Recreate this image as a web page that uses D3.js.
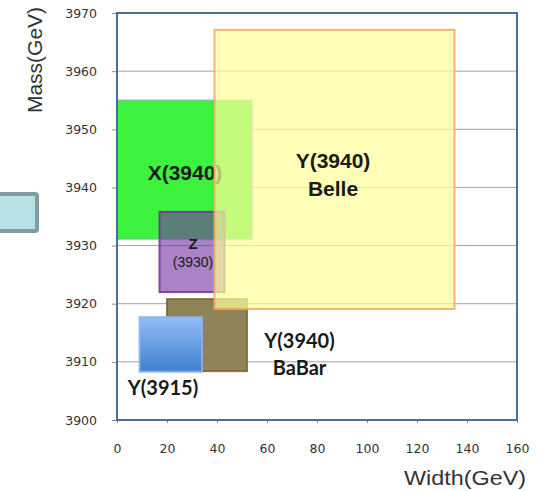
<!DOCTYPE html>
<html>
<head>
<meta charset="utf-8">
<script src="https://cdn.jsdelivr.net/npm/d3@7"></script>
<style>
  body { margin: 0; background: #fff; }
  svg { display: block; }
</style>
</head>
<body>
<div id="canvas"></div>
<script>
// states, drawn from bottom layer to top layer
const names    = ["X(3940)", "Z(3930)", "Y(3940) BaBar", "Y(3915)", "Y(3940) Belle"];
const widthLo  = [0, 17, 20, 9, 39];
const widthHi  = [54, 43, 52, 34, 135];
const massLo   = [3931.1, 3922.0, 3908.4, 3908.3, 3919.1];
const massHi   = [3955.0, 3935.8, 3920.8, 3917.7, 3967.1];

const xTicks = [0, 20, 40, 60, 80, 100, 120, 140, 160];
const yTicks = [3900, 3910, 3920, 3930, 3940, 3950, 3960, 3970];

// label lines placed at (width, mass)
const labelText = ["X(3940)", "Y(3940)", "Belle", "Z", "(3930)", "Y(3940)", "BaBar", "Y(3915)"];
const labelW    = [27.2, 86.4, 86.4, 30.4, 30.4, 73.0, 73.0, 18.4];
const labelM    = [3942.5, 3944.7, 3939.9, 3930.4, 3927.2, 3913.8, 3909.1, 3905.6];

const width = 538, height = 491;
const margin = { top: 13, left: 117, bottom: 71, right: 21 };
const iwidth = width - margin.left - margin.right;
const iheight = height - margin.top - margin.bottom;

const svg = d3.select("#canvas").append("svg")
  .attr("width", width)
  .attr("height", height);

const defs = svg.append("defs");
const grad = defs.append("linearGradient").attr("id", "blueGrad")
  .attr("x1", 0).attr("y1", 0).attr("x2", 0).attr("y2", 1);
grad.append("stop").attr("offset", "0%").attr("stop-color", "#93bdf6");
grad.append("stop").attr("offset", "100%").attr("stop-color", "#3f7fd0");

// stray box at the left edge
svg.append("rect")
  .attr("x", -6).attr("y", 194).attr("width", 43).attr("height", 37).attr("rx", 2)
  .style("fill", "#b8e1e6").style("stroke", "#809e9f").style("stroke-width", 4);

const g = svg.append("g").attr("transform", `translate(${margin.left},${margin.top})`);

const x = d3.scaleLinear().domain([0, 160]).range([0, iwidth]);
const y = d3.scaleLinear().domain([3900, 3970]).range([iheight, 0]);

// grid
g.append("g")
  .selectAll("line").data(yTicks).enter().append("line")
  .attr("x1", 0).attr("x2", iwidth)
  .attr("y1", d => y(d)).attr("y2", d => y(d))
  .style("stroke", "#a3a3a3").style("stroke-width", 1);

const xAxis = g.append("g")
  .attr("transform", `translate(0,${iheight})`)
  .call(d3.axisBottom(x).tickValues(xTicks).tickSize(3).tickPadding(21).tickFormat(d3.format("d")));
const yAxis = g.append("g")
  .call(d3.axisLeft(y).tickValues(yTicks).tickSize(5).tickPadding(15).tickFormat(d3.format("d")));
[xAxis, yAxis].forEach(a => {
  a.select(".domain").remove();
  a.selectAll("line").style("stroke", "#8a8a8a");
  a.selectAll("text").style("font-family", "DejaVu Sans").style("font-size", "12.5px").style("fill", "#333");
});

const fills   = ["#3df23d", "#7030a0", "#86784a", "url(#blueGrad)", "#ffff99"];
const opac    = [1, 0.6, 0.92, 1, 0.7];
const strokes = ["#7f9fbf", "#7030a0", "#7a6632", "#8fb4e8", "#f5a462"];

const idx = d3.range(names.length);
const drawRect = i => g.append("rect")
  .attr("class", "state")
  .attr("x", x(widthLo[i]))
  .attr("y", y(massHi[i]))
  .attr("width", x(widthHi[i]) - x(widthLo[i]))
  .attr("height", y(massLo[i]) - y(massHi[i]))
  .style("fill", fills[i])
  .style("fill-opacity", opac[i])
  .style("stroke", strokes[i])
  .style("stroke-opacity", i === 0 ? 0.5 : 0.85)
  .style("stroke-width", 2);

idx.slice(0, 4).forEach(drawRect);

const labels = g.selectAll(".lab").data(d3.range(labelText.length)).enter().append("text")
  .attr("class", "lab")
  .attr("x", i => x(labelW[i]))
  .attr("y", i => y(labelM[i]))
  .attr("text-anchor", "middle")
  .attr("dominant-baseline", "central")
  .style("fill", "#1a1a1a")
  .style("font-family", i => i >= 5 ? "Lato" : "Liberation Sans, Arial")
  .style("font-weight", i => (i === 4 ? "normal" : "bold"))
  .style("font-size", i => i === 3 ? "15px" : i === 4 ? "14px" : i >= 5 ? "20px" : "21px")
  .text(i => labelText[i]);

// Belle band lies over everything drawn before it
drawRect(4);
labels.filter(i => i > 0).raise();

// frame
g.append("rect")
  .attr("x", 0).attr("y", 0).attr("width", iwidth).attr("height", iheight)
  .style("fill", "none").style("stroke", "#4a6d9c").style("stroke-width", 2);

svg.append("text")
  .attr("x", 526).attr("y", 485)
  .attr("text-anchor", "end")
  .attr("textLength", 122).attr("lengthAdjust", "spacingAndGlyphs")
  .style("font-family", "Liberation Sans, Arial").style("font-size", "21px").style("fill", "#333")
  .text("Width(GeV)");

svg.append("text")
  .attr("transform", "translate(42,60) rotate(-90)")
  .attr("text-anchor", "middle")
  .style("font-family", "Liberation Sans, Arial").style("font-size", "21px").style("fill", "#333")
  .text("Mass(GeV)");
</script>
</body>
</html>
